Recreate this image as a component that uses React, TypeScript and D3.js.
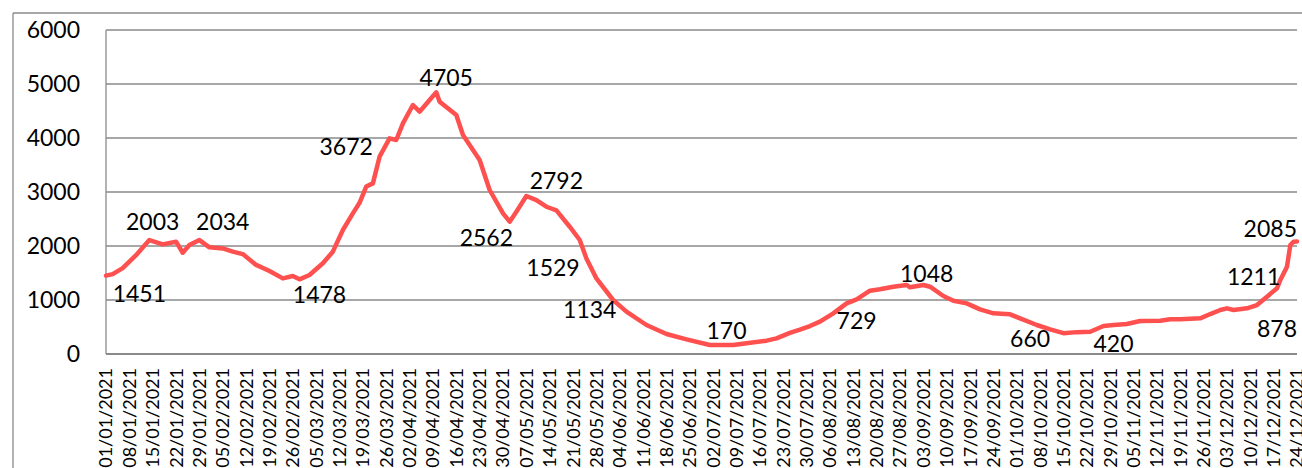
import React from "react";
import * as d3 from "d3";

// ---- data ----
const dates: string[] = [
  "2021-01-01","2021-01-03","2021-01-06","2021-01-10","2021-01-14","2021-01-18","2021-01-22","2021-01-24","2021-01-26","2021-01-29",
  "2021-02-01","2021-02-05","2021-02-08","2021-02-11","2021-02-15","2021-02-19","2021-02-23","2021-02-26","2021-02-28",
  "2021-03-03","2021-03-07","2021-03-10","2021-03-13","2021-03-16","2021-03-18","2021-03-20","2021-03-22","2021-03-24","2021-03-27","2021-03-29","2021-03-31",
  "2021-04-03","2021-04-05","2021-04-08","2021-04-10","2021-04-11","2021-04-16","2021-04-18","2021-04-23","2021-04-26","2021-04-30",
  "2021-05-02","2021-05-04","2021-05-07","2021-05-10","2021-05-13","2021-05-16","2021-05-20","2021-05-23","2021-05-25","2021-05-28",
  "2021-06-02","2021-06-06","2021-06-12","2021-06-18","2021-06-24",
  "2021-07-01","2021-07-08","2021-07-12","2021-07-18","2021-07-21","2021-07-25","2021-07-28","2021-07-31",
  "2021-08-03","2021-08-07","2021-08-11","2021-08-14","2021-08-18","2021-08-21","2021-08-25","2021-08-29","2021-08-30",
  "2021-09-03","2021-09-05","2021-09-09","2021-09-12","2021-09-16","2021-09-20","2021-09-24","2021-09-29",
  "2021-10-02","2021-10-07","2021-10-11","2021-10-15","2021-10-19","2021-10-23","2021-10-27","2021-10-30",
  "2021-11-03","2021-11-07","2021-11-13","2021-11-16","2021-11-19","2021-11-25","2021-11-28",
  "2021-12-01","2021-12-03","2021-12-05","2021-12-09","2021-12-12","2021-12-15","2021-12-18","2021-12-19","2021-12-21","2021-12-22","2021-12-23","2021-12-24",
];

const values: number[] = [
  1451, 1480, 1590, 1830, 2110, 2030, 2080, 1875, 2020, 2110,
  1975, 1955, 1895, 1850, 1650, 1537, 1400, 1444, 1383,
  1463, 1680, 1895, 2296, 2605, 2800, 3100, 3160, 3654, 3994, 3963, 4272,
  4611, 4487, 4704, 4846, 4673, 4426, 4055, 3593, 3037, 2605,
  2450, 2635, 2926, 2850, 2727, 2660, 2357, 2111, 1770, 1400,
  1000, 784, 537, 370, 272,
  167, 167, 198, 247, 290, 390, 450, 518,
  600, 753, 938, 1012, 1173, 1198, 1246, 1278, 1235,
  1278, 1246, 1074, 987, 938, 826, 753, 734,
  660, 537, 455, 385, 405, 413, 518, 537,
  555, 611, 617, 642, 642, 660, 740,
  815, 846, 815, 846, 907, 1061, 1216, 1370, 1617, 2018, 2080, 2085,
];

const yTicks: number[] = [0, 1000, 2000, 3000, 4000, 5000, 6000];

const firstTick = "2021-01-01";
const lastTick = "2021-12-24";

const labelValues: number[] = [1451, 2003, 2034, 1478, 3672, 4705, 2562, 2792, 1529, 1134, 170, 729, 1048, 660, 420, 878, 1211, 2085];

// label placement (text anchor points in data space) — layout, not data
const labelAtDate: string[] = [
  "2021-01-11","2021-01-15","2021-02-05","2021-03-06","2021-03-14","2021-04-13","2021-04-25","2021-05-16","2021-05-15",
  "2021-05-26","2021-07-06","2021-08-14","2021-09-04","2021-10-05","2021-10-30","2021-12-18","2021-12-11","2021-12-16",
];
const labelAtLevel: number[] = [963, 2296, 2296, 944, 3685, 4963, 2000, 3056, 1444, 667, 278, 463, 1333, 130, 37, 315, 1278, 2167];

// ---- layout ----
const W = 1302;
const H = 468;
const plotLeft = 106;
const plotRight = 1297;
const plotTop = 30;
const plotBottom = 354;

const parse = d3.utcParse("%Y-%m-%d");
const fmt = d3.utcFormat("%d/%m/%Y");
const FONT = "Lato, 'Open Sans', sans-serif";
const GRID = "#8a8a8a";

export default function App() {
  const x = d3
    .scaleUtc()
    .domain([parse(firstTick) as Date, parse(lastTick) as Date])
    .range([plotLeft, plotRight]);
  const y = d3.scaleLinear().domain([0, 6000]).range([plotBottom, plotTop]);

  const pts = dates.map((d, i) => ({ date: parse(d) as Date, v: values[i] }));
  const line = d3
    .line<{ date: Date; v: number }>()
    .x((d) => x(d.date))
    .y((d) => y(d.v));

  const xTicks = d3.utcDay.every(7)!
    ? d3.utcDays(parse(firstTick) as Date, d3.utcDay.offset(parse(lastTick) as Date, 1), 7)
    : [];

  return (
    <svg
      width={W}
      height={H}
      style={{ position: "absolute", left: 0, top: 0, background: "#fff" }}
      fontFamily={FONT}
    >
      <rect x={0} y={0} width={W} height={H} fill="#fff" />
      {/* outer chart frame */}
      <line x1={13} y1={13} x2={W} y2={13} stroke={GRID} strokeWidth={1.3} />
      <line x1={13} y1={13} x2={13} y2={H} stroke={GRID} strokeWidth={1.3} />

      {/* gridlines */}
      {yTicks.map((t) => (
        <line
          key={t}
          x1={plotLeft}
          x2={plotRight}
          y1={y(t)}
          y2={y(t)}
          stroke={GRID}
          strokeWidth={t === 0 ? 1.8 : 1.3}
        />
      ))}
      {/* y axis line */}
      <line x1={plotLeft} x2={plotLeft} y1={plotTop} y2={plotBottom} stroke={GRID} strokeWidth={1.3} />

      {/* y tick labels */}
      {yTicks.map((t) => (
        <text key={t} x={80} y={y(t)} dy="0.36em" textAnchor="end" fontSize={23} fill="#000">
          {t}
        </text>
      ))}

      {/* x tick labels */}
      {xTicks.map((d) => (
        <text
          key={d.toISOString()}
          transform={`translate(${x(d)},${368}) rotate(-90)`}
          textAnchor="end"
          dy="0.36em"
          fontSize={18}
          fill="#000"
        >
          {fmt(d)}
        </text>
      ))}

      {/* line */}
      <path
        d={line(pts) || ""}
        fill="none"
        stroke="#ff5050"
        strokeWidth={4.5}
        strokeLinejoin="round"
        strokeLinecap="round"
      />

      {/* data labels */}
      {labelValues.map((v, i) => (
        <text
          key={i}
          x={x(parse(labelAtDate[i]) as Date)}
          y={y(labelAtLevel[i])}
          textAnchor="middle"
          fontSize={23}
          fill="#000"
        >
          {v}
        </text>
      ))}
    </svg>
  );
}
